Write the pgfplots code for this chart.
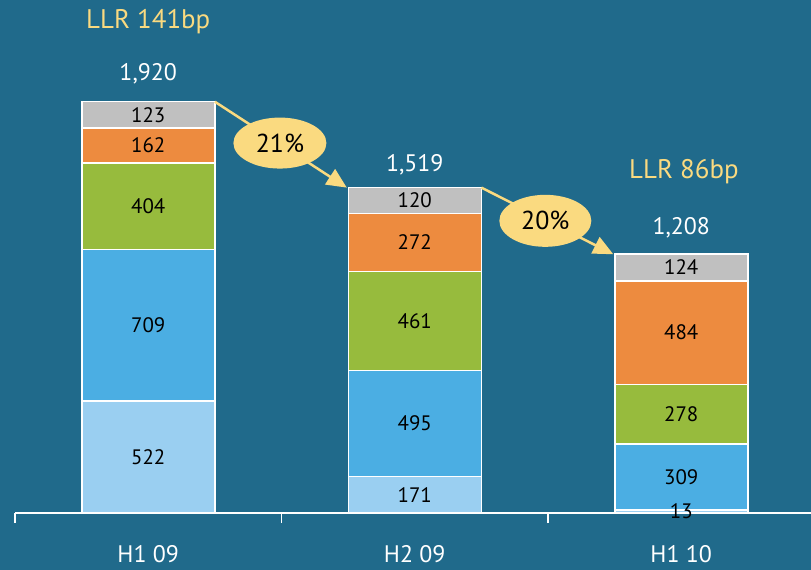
\documentclass[border=0pt]{standalone}
\usepackage{fontspec}
\setmainfont{PT Sans}
\usepackage{pgfplots}
\pgfplotsset{compat=1.18}
\usetikzlibrary{arrows.meta,shapes.geometric}

\definecolor{bg}{RGB}{32,106,139}
\definecolor{cgray}{RGB}{192,192,192}
\definecolor{corange}{RGB}{237,139,63}
\definecolor{cgreen}{RGB}{151,187,61}
\definecolor{cblue}{RGB}{75,174,227}
\definecolor{clight}{RGB}{154,207,241}
\definecolor{cyell}{RGB}{250,218,128}

\newcommand{\fs}[1]{\fontsize{#1}{#1}\selectfont}

\begin{document}
\begin{tikzpicture}
\fill[bg] (0,0) rectangle (811bp,570bp);
\useasboundingbox (0,0) rectangle (811bp,570bp);
\begin{axis}[
    at={(15bp,57bp)}, anchor=south west,
    scale only axis, width=799.5bp, height=513bp,
    xmin=-0.5, xmax=2.5, ymin=0, ymax=2395,
    enlarge x limits=false,
    ybar stacked, bar width=133bp,
    axis x line*=bottom, axis y line=none,
    axis line style={white, line width=1.8bp},
    xtick={0,1,2},
    xticklabels={H1 09, H2 09, H1 10},
    major tick length=0pt,
    minor xtick={-0.5,0.5,1.5,2.5},
    minor tick length=10bp,
    tick align=outside,
    tick style={white, line width=1.5bp},
    xticklabel style={font=\fs{24}, text=white, yshift=-29bp},
    clip=false,
    point meta=explicit symbolic,
    nodes near coords={\pgfplotspointmeta},
    every node near coord/.append style={font=\fs{21}, text=black, anchor=center},
    every axis plot/.append style={draw=white, line width=1.5bp},
]
\addplot[fill=clight] coordinates {(0,522) [522] (1,171) [171] (2,13) [13]};
\addplot[fill=cblue] coordinates {(0,709) [709] (1,495) [495] (2,309) [309]};
\addplot[fill=cgreen] coordinates {(0,404) [404] (1,461) [461] (2,278) [278]};
\addplot[fill=corange] coordinates {(0,162) [162] (1,272) [272] (2,484) [484]};
\addplot[fill=cgray] coordinates {(0,123) [123] (1,120) [120] (2,124) [124]};

% totals
\node[text=white, font=\fs{24}] at (axis cs:0,2050) {1,920};
\node[text=white, font=\fs{24}] at (axis cs:1,1625) {1,519};
\node[text=white, font=\fs{24}] at (axis cs:2,1331) {1,208};

% LLR annotations
\node[text=cyell, font=\fs{27}] at (axis cs:0,2293) {LLR 141bp};
\node[text=cyell, font=\fs{27}] at (axis cs:2.01,1592) {LLR 86bp};

% anchor points for the arrows
\coordinate (a1) at (axis cs:0.25,1920);
\coordinate (b1) at (axis cs:0.745,1519);
\coordinate (m1) at (axis cs:0.494,1727);
\coordinate (a2) at (axis cs:1.25,1519);
\coordinate (b2) at (axis cs:1.745,1208);
\coordinate (m2) at (axis cs:1.49,1364);
\end{axis}
\draw[cyell, line width=2.5bp, -{Triangle[length=20bp,width=18bp]}] (a1) -- (b1);
\draw[cyell, line width=2.5bp, -{Triangle[length=20bp,width=18bp]}] (a2) -- (b2);
\node[ellipse, fill=cyell, minimum width=93bp, minimum height=51bp, inner sep=0pt, font=\fs{26}]
    at (m1) {21\%};
\node[ellipse, fill=cyell, minimum width=92bp, minimum height=52bp, inner sep=0pt, font=\fs{26}]
    at (m2) {20\%};
\end{tikzpicture}
\end{document}
